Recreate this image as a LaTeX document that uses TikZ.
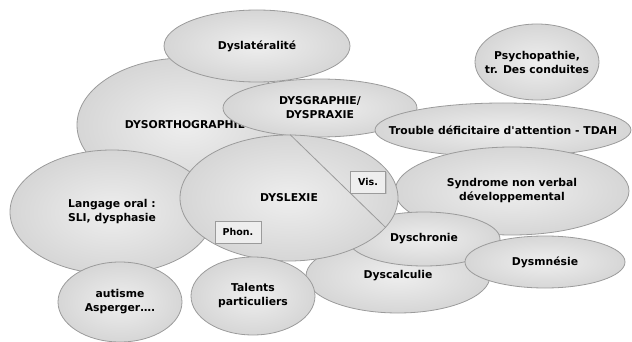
\documentclass[tikz,border=0pt]{standalone}
\usepackage{fontspec}
\setmainfont{DejaVu Sans}
\usetikzlibrary{shapes.geometric,shadows}
\definecolor{blobedge}{RGB}{155, 155, 155}
\definecolor{blobin}{RGB}{238, 238, 238}
\definecolor{blobout}{RGB}{214, 214, 214}
\tikzset{
  blob/.style={
    ellipse,
    inner xsep=-30pt,
    inner ysep=0pt,
    draw=blobedge,
    thick,
    inner color=blobin,
    outer color=blobout,
    font=\bfseries\fontsize{10.8}{14}\selectfont,
    align=center,
  },
  sz/.style 2 args={minimum width=#1pt, minimum height=#2pt},
  tag/.style={
    draw=blobedge,
    fill=blobin,
    font=\bfseries\fontsize{9.5}{11}\selectfont,
    minimum width=46pt,
    minimum height=22pt,
    inner sep=2pt,
    drop shadow={opacity=0.25, shadow xshift=1pt, shadow yshift=-1pt},
  },
}

\begin{document}
\begin{tikzpicture}[x=1pt, y=-1pt]
  \useasboundingbox (0,0) rectangle (632,342);

  % Back row
  \node[blob, sz={216}{134}] (dysortho) at (185,125) {DYSORTHOGRAPHIE};
  \node[blob, sz={194}{58}] (dysgraphie) at (320,108) {DYSGRAPHIE/\\DYSPRAXIE};
  \node[blob, sz={186}{72}] (dyslat) at (257,46) {Dyslatéralité};
  \node[blob, sz={124}{76}] (psycho) at (537,62) {Psychopathie,\\tr. Des conduites};
  \node[blob, sz={256}{54}] (tdah) at (503,130) {Trouble déficitaire d\textquotesingle attention - TDAH};
  \node[blob, sz={234}{88}] (syndrome) at (512,191) {Syndrome non verbal\\développemental};

  % Middle row
  \node[blob, sz={204}{124}] (langage) at (112,212) {Langage oral :\\SLI, dysphasie};
  \node[blob, sz={184}{74}] (dyscalc) at (398,276) {Dyscalculie};
  \node[blob, sz={152}{54}] (dyschron) at (424,239) {Dyschronie};

  % Dyslexia and its two parts
  \node[blob, sz={218}{126}] (dyslexie) at (289,198) {DYSLEXIE};
  \draw[blobedge, thick] (dyslexie.89) -- (dyslexie.-17);
  \node[tag, minimum width=35pt] (vis) at (368,182) {Vis.};
  \node[tag] (phon) at (238,232) {Phon.};

  % Front row
  \node[blob, sz={124}{78}] (talents) at (253,296) {Talents\\particuliers};
  \node[blob, sz={124}{80}] (autisme) at (120,302) {autisme\\Asperger….};
  \node[blob, sz={160}{52}] (dysmnesie) at (545,262) {Dysmnésie};
\end{tikzpicture}
\end{document}
